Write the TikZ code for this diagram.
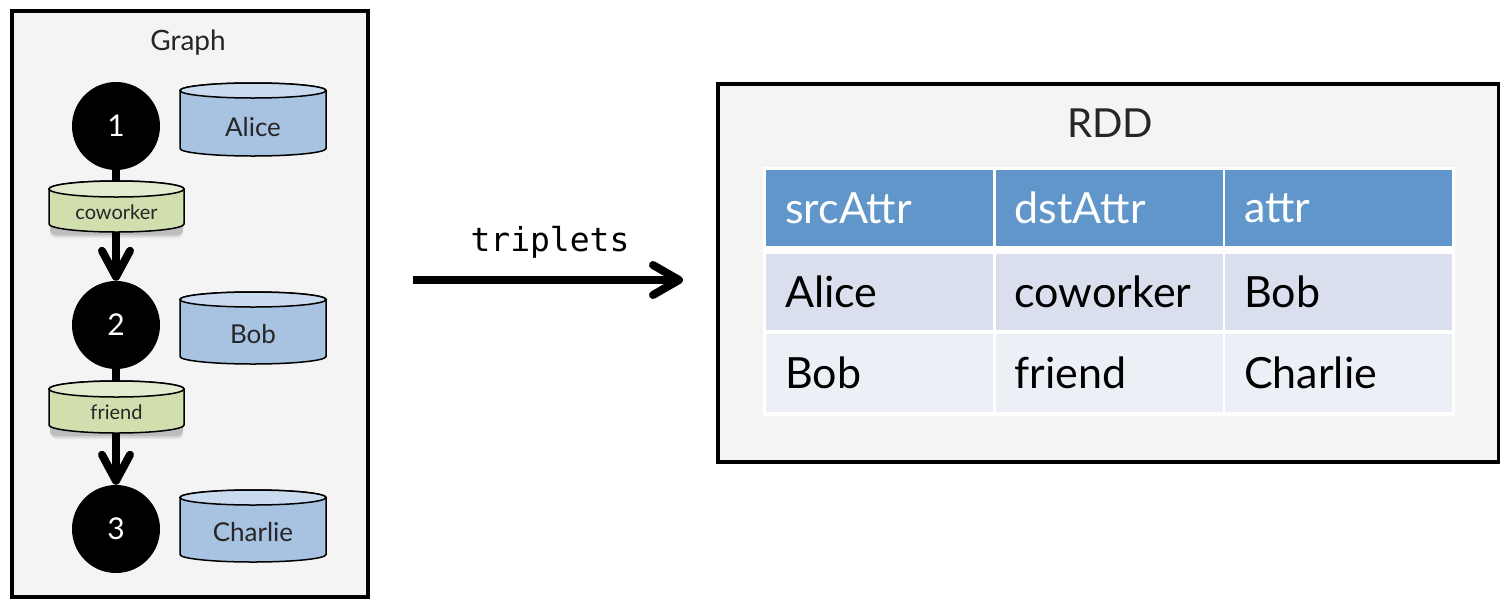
\documentclass[tikz,border=0pt]{standalone}
\usepackage{fontspec}
\setmainfont{Lato}
\setmonofont{DejaVu Sans Mono}
\usetikzlibrary{arrows.meta}
\definecolor{panelbg}{HTML}{F4F4F4}
\definecolor{vbody}{HTML}{A8C2E1}
\definecolor{vtop}{HTML}{CBDBEF}
\definecolor{ebody}{HTML}{D1DEAE}
\definecolor{etop}{HTML}{E4ECD0}
\definecolor{headfill}{HTML}{6096C9}
\definecolor{rowa}{HTML}{D9DFEC}
\definecolor{rowb}{HTML}{ECEFF5}

% drum: x-left, y-top, x-right, y-bottom, end radius, body colour, lid colour
\newcommand\drumshape[7]{%
  \filldraw[fill=#6,draw=black,line width=1.5pt]
    (#1,{#2-#5}) -- (#1,{#4+#5})
    arc[start angle=180,end angle=360,x radius={(#3-#1)/2},y radius=#5]
    -- (#3,{#2-#5})
    arc[start angle=0,end angle=180,x radius={(#3-#1)/2},y radius=#5] -- cycle;
  \filldraw[fill=#7,draw=black,line width=1.5pt]
    ({(#1+#3)/2},{#2-#5}) ellipse[x radius={(#3-#1)/2},y radius=#5];
}
% soft shadow under a drum
\newcommand\drumshadow[5]{%
  \foreach \o/\a in {6/0.06,4.5/0.08,3/0.10}{
    \fill[black,opacity=\a,rounded corners=6pt]
      ({#1+1},{#2-#5}) rectangle ({#3-1},{#4-\o});
  }
}

\tikzset{
  panel/.style={draw=black,line width=4pt,fill=panelbg,anchor=north west,inner sep=0pt},
  vertex/.style={circle,fill=black,minimum size=88pt,inner sep=0pt,text=white,
    font=\fontsize{30}{36}\selectfont},
  drumtext/.style={font=\fontsize{26}{31}\selectfont,text=black!85},
  edgetext/.style={font=\fontsize{20}{24}\selectfont,text=black!85},
  edge/.style={line width=8pt,-{Straight Barb[length=26pt,width=28pt,round]}},
  bigarrow/.style={line width=8pt,-{Straight Barb[length=26pt,width=30pt,round]}},
  cell/.style={anchor=north west,minimum height=76pt,text width=189pt,inner xsep=19pt,
    inner ysep=0pt,align=left,font=\fontsize{43}{50}\selectfont},
  headcell/.style={cell,fill=headfill,text=white},
  cella/.style={cell,fill=rowa,text=black},
  cellb/.style={cell,fill=rowb,text=black},
  title/.style={font=\fontsize{28}{34}\selectfont,anchor=base,text=black!85},
}

\begin{document}
\begin{tikzpicture}[x=1pt,y=1pt]
\useasboundingbox (0,0) rectangle (1500,-598);

% left panel: the property graph
\node[panel,minimum width=356pt,minimum height=586pt] (graphbox) at (10,-9) {};
\node[title] (graphtitle) at (188,-50) {Graph};

\node[vertex] (v1) at (116,-126) {1};
\node[vertex] (v2) at (116,-325) {2};
\node[vertex] (v3) at (116,-529) {3};

\draw[edge] (v1) -- (v2);
\draw[edge] (v2) -- (v3);

% vertex properties
\drumshape{180}{-83}{326}{-156}{7.5}{vbody}{vtop}
\node[drumtext] (alice) at (253,-127) {Alice};
\drumshape{180}{-292}{326}{-364}{7.5}{vbody}{vtop}
\node[drumtext] (bob) at (253,-334) {Bob};
\drumshape{180}{-490}{326}{-562}{7.5}{vbody}{vtop}
\node[drumtext] (charlie) at (253,-532) {Charlie};

% edge properties
\drumshadow{49}{-181}{184}{-232}{8}
\drumshape{49}{-181}{184}{-232}{8}{ebody}{etop}
\node[edgetext] (coworker) at (116.5,-212) {coworker};
\drumshadow{49}{-381}{184}{-433}{8}
\drumshape{49}{-381}{184}{-433}{8}{ebody}{etop}
\node[edgetext] (friend) at (116.5,-412) {friend};

% right panel: the triplets RDD
\node[panel,minimum width=781pt,minimum height=378pt] (rddbox) at (716,-82) {};
\node[title,font=\fontsize{40}{48}\selectfont] (rddtitle) at (1110,-137) {RDD};

\fill[white] (763,-167) rectangle (1455,-416);
\node[headcell,minimum width=227pt] (h1) at (766,-170) {srcAttr};
\node[headcell,minimum width=227pt] (h2) at (995.5,-170) {dstAttr};
\node[headcell,minimum width=227pt] (h3) at (1225,-170) {attr};
\node[cella,minimum width=227pt] (a1) at (766,-254) {Alice};
\node[cella,minimum width=227pt] (a2) at (995.5,-254) {coworker};
\node[cella,minimum width=227pt] (a3) at (1225,-254) {Bob};
\node[cellb,minimum width=227pt,minimum height=78pt] (b1) at (766,-334) {Bob};
\node[cellb,minimum width=227pt,minimum height=78pt] (b2) at (995.5,-334) {friend};
\node[cellb,minimum width=227pt,minimum height=78pt] (b3) at (1225,-334) {Charlie};

% transformation arrow
\coordinate (tstart) at (413,-280);
\draw[bigarrow,shorten >=33pt] (tstart) -- (rddbox.west |- tstart);
\node[font=\ttfamily\fontsize{33}{40}\selectfont,anchor=base] (trip) at (550,-251) {triplets};
\end{tikzpicture}
\end{document}
